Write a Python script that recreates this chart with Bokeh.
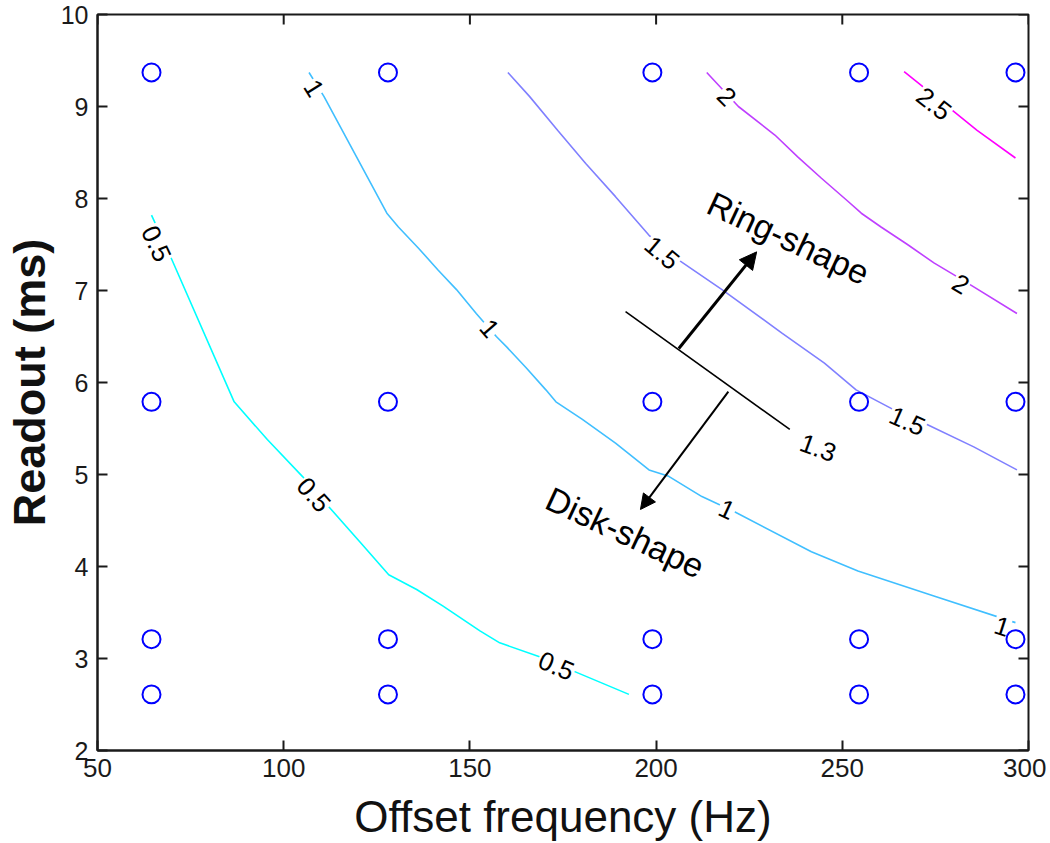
import numpy as np
from bokeh.plotting import figure
from bokeh.models import Range1d, FixedTicker, Arrow, NormalHead, ColumnDataSource
from bokeh.embed import file_html
from bokeh.resources import INLINE
from bokeh.core.properties import value

# ---------------- data ----------------
offset_hz = [64.5, 128, 199, 254.5, 296.5]
readout_ms = [9.37, 5.79, 3.21, 2.61]

c05_x = [64.5, 69.6, 86.7, 95.6, 105.0, 112.1, 120.6, 128.2, 135.7, 142.8, 152.7, 158.0, 168.7, 178.0, 192.7]
c05_y = [7.82, 7.37, 5.79, 5.38, 4.98, 4.65, 4.26, 3.91, 3.75, 3.57, 3.30, 3.17, 3.02, 2.86, 2.61]

c10_x = [106.8, 110.8, 127.7, 130.8, 136.2, 141.5, 146.4, 151.7, 157.1, 159.8, 165.1, 170.4, 173.1,
         180.2, 189.1, 198.1, 203.4, 212.3, 220.8, 241.7, 254.2, 274.6, 296.5]
c10_y = [9.37, 9.11, 7.84, 7.69, 7.46, 7.22, 7.01, 6.75, 6.50, 6.39, 6.16, 5.92, 5.79,
         5.60, 5.34, 5.05, 4.98, 4.76, 4.60, 4.16, 3.95, 3.68, 3.39]

c15_x = [160.2, 166.0, 173.6, 181.1, 189.1, 198.1, 206.1, 217.7, 233.7, 245.2, 253.7, 264.0, 272.9, 285.3, 296.9]
c15_y = [9.37, 9.11, 8.74, 8.38, 8.02, 7.60, 7.33, 7.01, 6.54, 6.21, 5.92, 5.70, 5.54, 5.30, 5.05]

c20_x = [213.6, 222.1, 231.9, 238.1, 244.4, 251.5, 255.1, 260.4, 267.5, 274.6, 280.0, 285.3, 296.9]
c20_y = [9.37, 9.00, 8.69, 8.45, 8.22, 7.97, 7.84, 7.69, 7.50, 7.30, 7.17, 7.04, 6.75]

c25_x = [266.6, 280.4, 286.2, 296.5]
c25_y = [9.38, 8.93, 8.74, 8.44]

boundary_x = [191.8, 235.9]   # the 1.3 iso-line
boundary_y = [6.77, 5.49]

lab_text = ["0.5", "0.5", "0.5", "1", "1", "1", "1", "1.5", "1.5", "2", "2", "2.5", "1.3"]
lab_x = [65.8, 108.1, 173.2, 108.1, 155.3, 219.0, 292.9, 201.6, 267.5, 219.0, 281.8, 274.6, 243.5]
lab_y = [7.51, 4.78, 2.92, 9.20, 6.59, 4.62, 3.35, 7.41, 5.58, 9.11, 7.07, 9.03, 5.29]
lab_angle = [-65, -48, -23, -58, -49, -25, -18, -40, -24, -45, -31, -38, -20]

shape_text = ["Ring-shape", "Disk-shape"]
shape_x = [235.5, 191.7]
shape_y = [7.57, 4.37]

ring_arrow = [206.1, 6.37, 227.0, 7.42]
disk_arrow = [219.4, 5.90, 195.8, 4.62]

x_ticks = [50, 100, 150, 200, 250, 300]
y_ticks = [2, 3, 4, 5, 6, 7, 8, 9, 10]

# cool colormap colours for levels 0.5 .. 2.5
cool = ["#00FFFF", "#40BFFF", "#8080FF", "#BF40FF", "#FF00FF"]

FONT = "Liberation Sans"
AX = "#1a1a1a"

X0, X1 = 50, 300
Y0, Y1 = 2, 10

p = figure(width=1046, height=843, x_range=Range1d(X0, X1), y_range=Range1d(Y0, Y1),
           output_backend="svg", toolbar_location=None,
           min_border_left=93, min_border_right=18, min_border_top=14, min_border_bottom=92)
p.grid.visible = False
p.outline_line_color = AX
p.outline_line_width = 2
p.background_fill_color = "white"
p.border_fill_color = "white"

xa = p.xaxis[0]
ya = p.yaxis[0]
xa.ticker = FixedTicker(ticks=x_ticks)
ya.ticker = FixedTicker(ticks=y_ticks)
for ax in (xa, ya):
    ax.major_tick_in = 10
    ax.major_tick_out = 0
    ax.minor_tick_line_color = None
    ax.major_tick_line_color = AX
    ax.major_tick_line_width = 2
    ax.axis_line_color = AX
    ax.axis_line_width = 2
    ax.major_label_text_font = FONT
    ax.major_label_text_color = AX
    ax.axis_label_text_font = FONT
    ax.axis_label_text_color = "#111111"

xa.major_label_text_font_size = "26px"
xa.major_label_standoff = 8
ya.major_label_text_font_size = "25px"
ya.major_label_standoff = 9
xa.axis_label = "Offset frequency (Hz)"
ya.axis_label = "Readout (ms)"
xa.axis_label_text_font_size = "44px"
xa.axis_label_text_font_style = "normal"
xa.axis_label_text_line_height = 0.8
xa.axis_label_standoff = 12
ya.axis_label_text_font_size = "45px"
ya.axis_label_text_font_style = "bold"
ya.axis_label_standoff = 3

# inward ticks on top and right edges of the box
p.ray(x=x_ticks, y=[Y1] * len(x_ticks), length=10, length_units="screen",
      angle=-np.pi / 2, line_color=AX, line_width=2)
p.ray(x=[X1] * len(y_ticks), y=y_ticks, length=10, length_units="screen",
      angle=np.pi, line_color=AX, line_width=2)

# contour lines
for xs, ys, col in zip([c05_x, c10_x, c15_x, c20_x, c25_x],
                       [c05_y, c10_y, c15_y, c20_y, c25_y], cool):
    p.line(xs, ys, line_color=col, line_width=1.6)

p.line(boundary_x, boundary_y, line_color="black", line_width=1.6)

# contour labels
lab_src = ColumnDataSource(dict(x=lab_x, y=lab_y, text=lab_text,
                                angle=list(np.deg2rad(lab_angle))))
p.text(x="x", y="y", text="text", angle="angle", source=lab_src,
       text_align="center", text_baseline="middle",
       text_font=value(FONT), text_font_size="26px", text_color="black",
       background_fill_color="white", padding=1)

# arrows
p.add_layout(Arrow(x_start=ring_arrow[0], y_start=ring_arrow[1],
                   x_end=ring_arrow[2], y_end=ring_arrow[3],
                   line_width=3, line_color="black",
                   end=NormalHead(size=17, fill_color="black", line_color="black")))
p.add_layout(Arrow(x_start=disk_arrow[0], y_start=disk_arrow[1],
                   x_end=disk_arrow[2], y_end=disk_arrow[3],
                   line_width=2, line_color="black",
                   end=NormalHead(size=15, fill_color="black", line_color="black")))

p.text(x=shape_x, y=shape_y, text=shape_text, angle=float(np.deg2rad(-25)),
       text_align="center", text_baseline="middle",
       text_font=value(FONT), text_font_size="34px", text_color="black")

# sample points
gx = [x for y in readout_ms for x in offset_hz]
gy = [y for y in readout_ms for x in offset_hz]
p.scatter(gx, gy, marker="circle", size=18, fill_color=None,
          line_color="#0000FF", line_width=2)

open("out.html", "w").write(file_html(p, INLINE))
